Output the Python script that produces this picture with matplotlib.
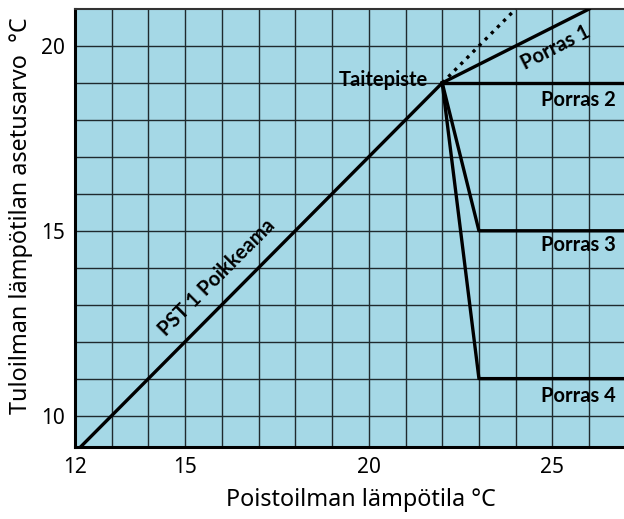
import matplotlib
matplotlib.use("Agg")
import matplotlib.pyplot as plt

plt.rcParams['font.family'] = ['Noto Sans', 'DejaVu Sans']

# Data
base_x = [12, 22]
base_y = [9, 19]
dotted_x = [22, 24]
dotted_y = [19, 21]
porras1_x = [22, 26]
porras1_y = [19, 21]
porras2_x = [22, 27]
porras2_y = [19, 19]
porras3_x = [22, 23, 27]
porras3_y = [19, 15, 15]
porras4_x = [22, 23, 27]
porras4_y = [19, 11, 11]

x_ticks = [12, 15, 20, 25]
y_ticks = [10, 15, 20]

BG = '#a5d8e6'
GRID = '#1f2a2e'
BOLD_FONT = ['Lato', 'DejaVu Sans']

fig = plt.figure(figsize=(6.24, 5.19), dpi=100)
ax = fig.add_axes([75 / 624, 1 - 447 / 519, 1 - 75 / 624, (447 - 9) / 519])
ax.set_facecolor(BG)
ax.set_xlim(12, 26.95)
ax.set_ylim(9.15, 21.0)

# grid every 1 degree
for gx in range(13, 27):
    ax.axvline(gx, color=GRID, lw=1.0, zorder=1)
for gy in range(10, 21):
    ax.axhline(gy, color=GRID, lw=1.0, zorder=1)

lw = 2.4
ax.plot(base_x, base_y, color='black', lw=lw, zorder=3)
ax.plot(dotted_x, dotted_y, color='black', lw=lw, ls=(0, (1, 1.6)), zorder=3)
ax.plot(porras1_x, porras1_y, color='black', lw=lw, zorder=3)
ax.plot(porras2_x, porras2_y, color='black', lw=lw, zorder=3)
ax.plot(porras3_x, porras3_y, color='black', lw=lw, zorder=3)
ax.plot(porras4_x, porras4_y, color='black', lw=lw, zorder=3)

# labels on the chart
fs = 14.5
ax.text(21.62, 19.08, "Taitepiste", fontsize=fs, fontweight='bold', family=BOLD_FONT,
        ha='right', va='center', zorder=4)
ax.text(25.1, 19.95, "Porras 1", fontsize=fs, fontweight='bold', family=BOLD_FONT,
        rotation=27, ha='center', va='center', rotation_mode='anchor', zorder=4)
ax.text(26.72, 18.54, "Porras 2", fontsize=fs, fontweight='bold', family=BOLD_FONT,
        ha='right', va='center', zorder=4)
ax.text(26.72, 14.62, "Porras 3", fontsize=fs, fontweight='bold', family=BOLD_FONT,
        ha='right', va='center', zorder=4)
ax.text(26.72, 10.54, "Porras 4", fontsize=fs, fontweight='bold', family=BOLD_FONT,
        ha='right', va='center', zorder=4)
ax.text(15.85, 13.72, "PST 1 Poikkeama", fontsize=fs, fontweight='bold', family=BOLD_FONT,
        rotation=45, ha='center', va='center', rotation_mode='anchor', zorder=4)

ax.set_xticks(x_ticks)
ax.set_yticks(y_ticks)
ax.tick_params(length=0, labelsize=15, pad=7)
for lab in ax.get_xticklabels() + ax.get_yticklabels():
    lab.set_color('black')

ax.spines['left'].set_linewidth(2.2)
ax.spines['bottom'].set_linewidth(2.2)
ax.spines['top'].set_linewidth(1.5)
ax.spines['top'].set_color('#333333')
ax.spines['right'].set_visible(False)

fig.text(361 / 624, 1 - 500 / 519, "Poistoilman lämpötila °C", fontsize=16.8,
         ha='center', va='center')
fig.text(21 / 624, 1 - 216 / 519, "Tuloilman lämpötilan asetusarvo  °C", fontsize=16.8,
         ha='center', va='center', rotation=90)

fig.savefig("out.png", dpi=100)
